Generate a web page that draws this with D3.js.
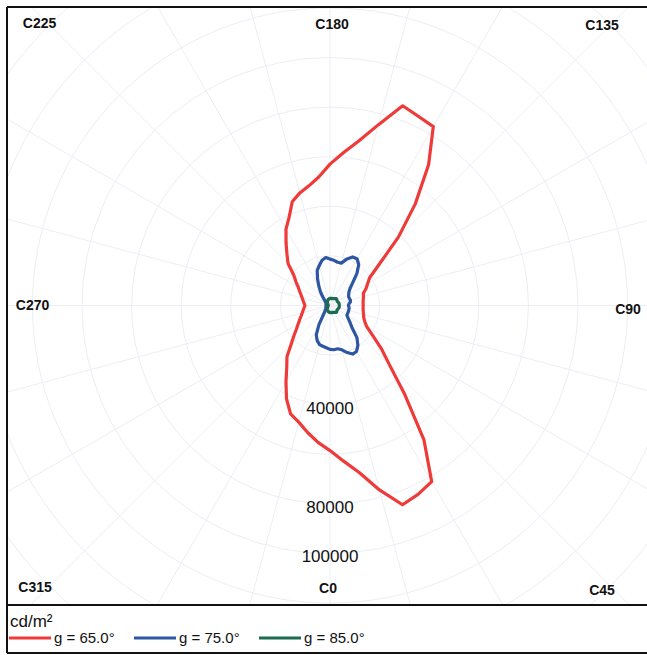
<!DOCTYPE html>
<html><head><meta charset="utf-8">
<script src="https://cdn.jsdelivr.net/npm/d3@7"></script>
<style>body{margin:0;background:#fff}svg{display:block}</style>
</head><body>
<svg id="chart" width="647" height="655"></svg>
<script>
// C-plane angles (degrees), 5° steps
const cAngles = d3.range(0, 360, 5);
// luminance (cd/m²) per C-plane for each gamma
const lum65 = [58500,63000,68500,77000,85500,84000,82000,66000,47000,34000,
  27000,21000,17100,15500,14500,14000,13600,13400,13400,13400,
  13600,14000,14300,16000,17500,19500,26000,39000,53500,69300,
  83300,84200,85700,75500,67500,61800,57000,52000,49000,47000,
  44500,39100,35500,30900,27000,23900,19100,16800,14800,13500,
  12400,11600,11000,10500,10100,10500,11000,11600,12400,13500,
  14800,16500,19000,22200,27000,30400,35500,41500,46500,48700,
  52000,55400];
const lum75 = [17700,17900,17700,18500,20200,21600,21400,19600,16900,12500,
  10500,8900,7900,7800,7800,7800,7800,7700,7400,7700,
  8400,8500,8300,8300,8700,9300,10500,12900,16900,20200,
  21800,21600,20000,17700,17700,18300,18700,19400,18500,16700,
  15100,11900,9000,6700,4600,3200,2500,2100,1900,1800,
  1700,1700,1650,1600,1600,1600,1700,1700,1800,1800,
  1900,2100,2400,2800,3300,4800,8900,13100,15100,16300,
  16700,17100];
const lum85 = [2800,2900,2800,3000,2900,3000,3200,3400,3600,3800,
  3600,3400,3400,3500,3600,3700,3750,3750,3750,3750,
  3750,3700,3600,3500,3400,3400,3600,3800,3600,3400,
  3200,3000,2900,3000,2800,2900,2900,2800,2600,2600,
  2400,2200,2000,1800,1600,1800,1400,1200,1000,900,
  800,800,720,700,700,700,720,800,800,900,
  1000,1200,1400,1800,1600,1800,2000,2200,2400,2600,
  2600,2800];
const seriesNames = ["g = 65.0°", "g = 75.0°", "g = 85.0°"];
const ringValues = [20000,40000,60000,80000,100000,120000,140000,160000,180000,200000];
const ringLabelValues = [40000, 80000, 100000];
const cLabelAngles = [0,45,90,135,180,225,270,315];
const unitLabel = "cd/m²";

// ---- layout / style ----
const W = 647, H = 655;
const cx = 330, cy = 305.5;
const frame = {x: 7, y: 7, w: 660, h: 598};
const legendBottom = 653;
const colors = ["#ef3a3a", "#2d56a3", "#1f6b50"];
const gridColor = "#eceef4";
const labelPos = {0:[328,588],45:[602,590],90:[628,309],135:[602,25],180:[332,24],225:[39.5,23],270:[32.5,305],315:[35,587]};

const svg = d3.select("#chart");
const r = d3.scaleLinear().domain([0, 120000]).range([0, 297.6]);

svg.append("defs").append("clipPath").attr("id","plotclip")
  .append("rect").attr("x",frame.x).attr("y",frame.y).attr("width",frame.w).attr("height",frame.h);

const plot = svg.append("g").attr("clip-path","url(#plotclip)");
const grid = plot.append("g").attr("fill","none").attr("stroke",gridColor).attr("stroke-width",1);
grid.selectAll("circle").data(ringValues).join("circle")
  .attr("cx",cx).attr("cy",cy).attr("r",d=>r(d));
grid.selectAll("line").data(d3.range(0,360,15)).join("line")
  .attr("x1",cx).attr("y1",cy)
  .attr("x2",d=>cx + r(220000)*Math.sin(d*Math.PI/180))
  .attr("y2",d=>cy + r(220000)*Math.cos(d*Math.PI/180));

// curves
const radial = d3.lineRadial()
  .angle(d=>Math.PI - d[0]*Math.PI/180)
  .radius(d=>r(d[1]))
  .curve(d3.curveLinearClosed);
const series = [lum65, lum75, lum85];
plot.append("g").attr("transform",`translate(${cx},${cy})`)
  .selectAll("path").data(series).join("path")
  .attr("d",vals=>radial(cAngles.map((a,i)=>[a, vals[i]])))
  .attr("fill","none").attr("stroke",(d,i)=>colors[i])
  .attr("stroke-width",3.2).attr("stroke-linejoin","round");

// ring labels
plot.append("g").selectAll("text").data(ringLabelValues).join("text")
  .attr("x",cx).attr("y",d=>cy + r(d) + 3)
  .attr("dy","0.35em").attr("text-anchor","middle")
  .attr("font-family","Liberation Sans, Arial, sans-serif").attr("font-size",17)
  .attr("fill","#111").text(d=>d);

// C labels
svg.append("g").selectAll("text").data(cLabelAngles).join("text")
  .attr("x",d=>labelPos[d][0]).attr("y",d=>labelPos[d][1])
  .attr("dy","0.35em").attr("text-anchor","middle")
  .attr("font-family","Liberation Sans, Arial, sans-serif").attr("font-size",14)
  .attr("font-weight","bold").attr("fill","#111").text(d=>"C"+d);

// frame
const fr = svg.append("g").attr("stroke","#111").attr("stroke-width",2).attr("fill","none");
fr.append("line").attr("x1",frame.x).attr("y1",frame.y).attr("x2",W+2).attr("y2",frame.y);
fr.append("line").attr("x1",frame.x).attr("y1",frame.y).attr("x2",frame.x).attr("y2",legendBottom);
fr.append("line").attr("x1",frame.x).attr("y1",frame.y+frame.h).attr("x2",W+2).attr("y2",frame.y+frame.h);
fr.append("line").attr("x1",frame.x).attr("y1",legendBottom).attr("x2",W+2).attr("y2",legendBottom);

// legend
const leg = svg.append("g").attr("font-family","Liberation Sans, Arial, sans-serif");
leg.append("text").attr("x",10).attr("y",627).attr("font-size",17).attr("fill","#111").text(unitLabel);
const itemX = [9, 134, 259];
const items = leg.selectAll("g.item").data(seriesNames).join("g").attr("class","item")
  .attr("transform",(d,i)=>`translate(${itemX[i]},638)`);
items.append("line").attr("x1",0).attr("x2",42).attr("y1",0).attr("y2",0)
  .attr("stroke",(d,i)=>colors[i]).attr("stroke-width",3);
items.append("text").attr("x",45).attr("y",5).attr("font-size",15).attr("fill","#111").text(d=>d);
</script>
</body></html>
